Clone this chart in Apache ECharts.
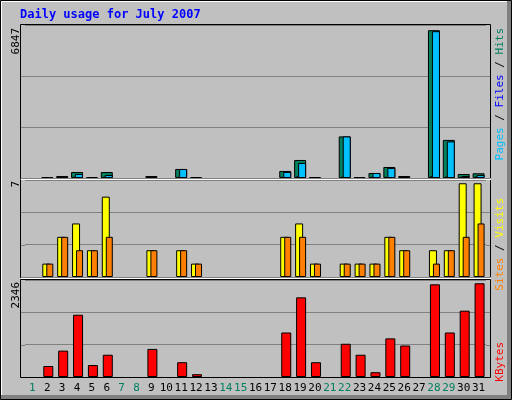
<!DOCTYPE html>
<html>
<head>
<meta charset="utf-8">
<script src="https://cdn.jsdelivr.net/npm/echarts@6/dist/echarts.min.js"></script>
<style>
html, body { margin: 0; padding: 0; background: #c0c0c0; }
#main { width: 512px; height: 400px; }
</style>
</head>
<body>
<div id="main"></div>
<script>
// days of the month, weekend days get green labels
var days = [];
for (var d = 1; d <= 31; d++) days.push(String(d));
var weekend = [1, 7, 8, 14, 15, 21, 22, 28, 29];

// values, one per day
var hits   = [0,46,93,278,46,278,0,0,93,0,418,46,0,0,0,0,0,325,835,46,0,1926,46,232,510,93,0,6847,1764,186,218];
var files  = [0,30,40,60,30,60,0,0,40,0,60,30,0,0,0,0,0,60,80,30,0,60,30,60,60,40,0,80,70,60,70];
var pages  = [0,0,46,186,0,139,0,0,0,0,418,0,0,0,0,0,0,278,696,0,0,1926,0,232,464,0,0,6800,1694,93,139];
var visits = [0,1,3,4,2,6,0,0,2,0,2,1,0,0,0,0,0,3,4,1,0,1,1,1,3,2,0,2,2,7,7];
var sites  = [0,1,3,2,2,3,0,0,2,0,2,1,0,0,0,0,0,3,3,1,0,1,1,1,3,2,0,1,2,3,4];
var kbytes = [0,275,660,1558,300,557,0,0,703,0,370,70,0,0,0,0,0,1114,1994,370,0,832,557,120,967,788,0,2320,1114,1660,2346];

var maxHits = 6847, maxVisits = 7, maxKbytes = 2346;

var myChart = echarts.init(document.getElementById('main'));

// bar drawn with an x offset (in px) from the day centre
function barSeries(name, values, color, x0, x1, gridIdx) {
    return {
        name: name,
        type: 'custom',
        xAxisIndex: gridIdx,
        yAxisIndex: gridIdx,
        data: values.map(function (v, i) { return [i, v]; }),
        renderItem: function (params, api) {
            var v = api.value(1);
            if (!v) return null;
            var top = api.coord([api.value(0), v]);
            var base = api.coord([api.value(0), 0]);
            return {
                type: 'rect',
                shape: { x: top[0] + x0 + 0.5, y: top[1] + 0.5, width: x1 - x0, height: base[1] - top[1] - 1 },
                style: { fill: color, stroke: '#000', lineWidth: 1 }
            };
        }
    };
}

var panels = [[25, 153], [180, 97], [280, 97]];
var grids = panels.map(function (p) {
    return { left: 25, right: 26, top: p[0], height: p[1], show: false };
});

function xAx(idx, showLabels) {
    return {
        type: 'category', gridIndex: idx, data: days,
        axisLine: { show: false }, axisTick: { show: false },
        axisLabel: {
            show: showLabels, interval: 0, margin: 6,
            fontFamily: 'DejaVu Sans Mono', fontSize: 11,
            color: function (val) { return weekend.indexOf(+val) >= 0 ? '#008060' : '#000'; }
        }
    };
}
function yAx(idx, max) {
    var m = max * 1.035;
    return {
        type: 'value', gridIndex: idx, min: 0, max: m, interval: m / 3,
        axisLine: { show: false }, axisTick: { show: false }, axisLabel: { show: false },
        splitLine: { lineStyle: { color: '#808080', width: 1 } }
    };
}

function vText(x, y, text) {
    return {
        type: 'text', x: x, y: y, rotation: Math.PI / 2,
        style: {
            text: text, rich: rich, align: 'right', verticalAlign: 'middle',
            font: '11px "DejaVu Sans Mono"', fill: '#000'
        }
    };
}

var rich = {
    p: { fill: '#00c0ff', font: '11px "DejaVu Sans Mono"' },
    f: { fill: '#0000ff', font: '11px "DejaVu Sans Mono"' },
    h: { fill: '#008060', font: '11px "DejaVu Sans Mono"' },
    s: { fill: '#ff8000', font: '11px "DejaVu Sans Mono"' },
    v: { fill: '#ffff00', font: '11px "DejaVu Sans Mono"' },
    k: { fill: '#ff0000', font: '11px "DejaVu Sans Mono"' },
    b: { fill: '#000', font: '11px "DejaVu Sans Mono"' }
};

var graphics = [
    // outer frame
    { type: 'rect', shape: { x: 0.5, y: 0.5, width: 511, height: 399 }, style: { fill: 'none', stroke: '#000', lineWidth: 1 } },
    { type: 'polyline', shape: { points: [[1.5, 397], [1.5, 1.5], [507, 1.5]] }, style: { stroke: '#fff', lineWidth: 1, fill: 'none' } },
    { type: 'rect', shape: { x: 507, y: 1, width: 4, height: 398 }, style: { fill: '#808080' } },
    { type: 'rect', shape: { x: 1, y: 395, width: 510, height: 4 }, style: { fill: '#808080' } }
];
// panel frames, gray grid line stubs outside the category area
panels.forEach(function (p) {
    var t = p[0], h = p[1];
    for (var k = 1; k < 3; k++) {
        var y = Math.round(t + h * k / 3) + 0.5;
        graphics.push({ type: 'line', shape: { x1: 21, y1: y, x2: 25, y2: y }, style: { stroke: '#808080' } });
        graphics.push({ type: 'line', shape: { x1: 486, y1: y, x2: 490, y2: y }, style: { stroke: '#808080' } });
    }
    graphics.push({ type: 'rect', z: 10, shape: { x: 20.5, y: t - 0.5, width: 470, height: h + 1 }, style: { fill: 'none', stroke: '#000', lineWidth: 1 } });
});
graphics.push(
    { type: 'rect', z: 11, shape: { x: 21, y: 178.5, width: 470, height: 1.5 }, style: { fill: '#fff' } },
    { type: 'rect', z: 11, shape: { x: 21, y: 277.5, width: 470, height: 1.5 }, style: { fill: '#fff' } },
    {
        type: 'text', x: 20, y: 15,
        style: { text: 'Daily usage for July 2007', font: 'bold 12px "DejaVu Sans Mono"', fill: '#0000ff', verticalAlign: 'middle' }
    },
    vText(16, 28, String(maxHits)),
    vText(16, 181, String(maxVisits)),
    vText(16, 282, String(maxKbytes)),
    vText(500, 28, '{p|Pages} {b|/} {f|Files} {b|/} {h|Hits}'),
    vText(500, 198, '{s|Sites} {b|/} {v|Visits}'),
    vText(500, 342, '{k|KBytes}')
);

option = {
    backgroundColor: '#c0c0c0',
    animation: false,
    grid: grids,
    xAxis: [xAx(0, false), xAx(1, false), xAx(2, true)],
    yAxis: [yAx(0, maxHits), yAx(1, maxVisits), yAx(2, maxKbytes)],
    series: [
        barSeries('Hits', hits, '#00805c', -6, 5, 0),
        barSeries('Files', files, '#0000ff', -4, 2, 0),
        barSeries('Pages', pages, '#00c0ff', -2, 5, 0),
        barSeries('Visits', visits, '#ffff00', -5, 2, 1),
        barSeries('Sites', sites, '#ff8000', -1, 5, 1),
        barSeries('KBytes', kbytes, '#ff0000', -4, 5, 2)
    ],
    graphic: graphics
};

myChart.setOption(option);
</script>
</body>
</html>
